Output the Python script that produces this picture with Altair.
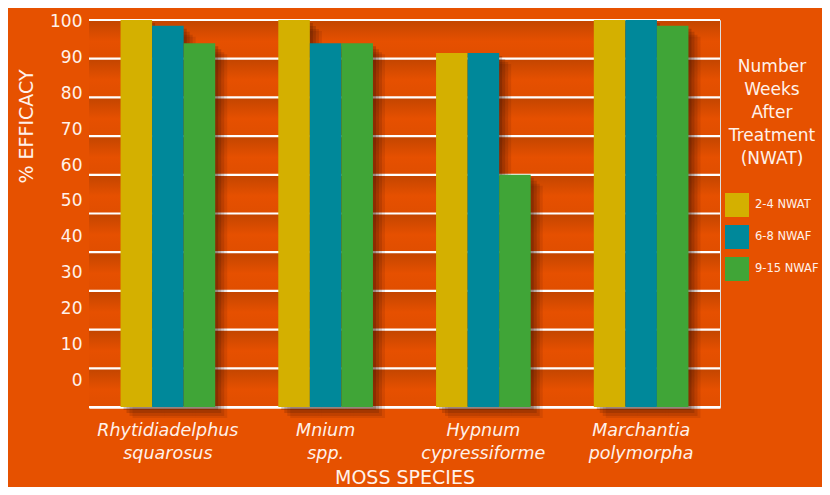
import altair as alt
import pandas as pd

species = ["Rhytidiadelphus squarosus", "Mnium spp.", "Hypnum cypressiforme", "Marchantia polymorpha"]
periods = ["2-4 NWAT", "6-8 NWAF", "9-15 NWAF"]
v_2_4 = [100, 100, 91.5, 100]
v_6_8 = [98.5, 94, 91.5, 100]
v_9_15 = [94, 94, 60, 98.5]
colors = ["#D4B000", "#00889A", "#40A537"]
y_ticks = list(range(0, 101, 10))

rows = []
for p, vals in zip(periods, [v_2_4, v_6_8, v_9_15]):
    for s, v in zip(species, vals):
        rows.append({"species": s, "period": p, "value": v})
df = pd.DataFrame(rows)
band_df = pd.DataFrame({"lo": y_ticks[:-1], "hi": y_ticks[1:]})
tick_df = pd.DataFrame({"tick": y_ticks})

TXT = "#FFF1EA"
FONT = "DejaVu Sans"
W, H = 631, 387
yscale = alt.Scale(domain=[0, 100], nice=False, zero=True)

xenc = alt.X("species:N", sort=species,
             scale=alt.Scale(paddingInner=0, paddingOuter=0),
             axis=alt.Axis(title="MOSS SPECIES", labelAngle=0,
                           labelExpr="split(datum.label, ' ')",
                           labelFontStyle="italic", labelFontSize=17.5,
                           labelColor=TXT, labelPadding=14, labelLineHeight=23,
                           ticks=False, domainColor="white", domainWidth=2.5,
                           titleFontSize=19, titleFontWeight="normal",
                           titleColor=TXT, titlePadding=7, labelFont=FONT,
                           titleFont=FONT))

step = W / 4 / 5  # width of one bar within a species band (outer padding 1 on each side)


def xoff(shift=0.0):
    return alt.XOffset("period:N", sort=periods,
                       scale=alt.Scale(paddingInner=0, paddingOuter=1,
                                       align=(step + shift) / (2 * step)))


bands = alt.Chart(band_df).mark_rect(
    fill=alt.Gradient(gradient="linear",
                      stops=[alt.GradientStop(color="#C24500", offset=0),
                             alt.GradientStop(color="#E65000", offset=0.55),
                             alt.GradientStop(color="#E04E00", offset=1)],
                      x1=0, x2=0, y1=0, y2=1)
).encode(
    y=alt.Y("hi:Q", scale=yscale,
            axis=alt.Axis(grid=False, labels=False, ticks=False, domain=True,
                          domainColor="white", domainWidth=2.5, title=None)),
    y2="lo:Q")

rules = alt.Chart(tick_df).mark_rule(color="white", strokeWidth=2.2).encode(
    y=alt.Y("tick:Q", scale=yscale, axis=None))


def shadow(dx, dy, op):
    return alt.Chart(df).mark_bar(color="#3A0E00", opacity=op, yOffset=dy).encode(
        x=xenc, xOffset=xoff(dx), y=alt.Y("value:Q", scale=yscale, axis=None))


bars = alt.Chart(df).mark_bar().encode(
    x=xenc, xOffset=xoff(0),
    y=alt.Y("value:Q", scale=yscale, axis=None),
    color=alt.Color("period:N", sort=periods,
                    scale=alt.Scale(domain=periods, range=colors),
                    legend=alt.Legend(
                        title=["Number", "Weeks", "After", "Treatment", "(NWAT)"],
                        orient="none", legendX=636, legendY=39,
                        titleAlign="center", titleAnchor="middle",
                        titleFontSize=17, titleFontWeight="normal",
                        titleLineHeight=23, titleColor=TXT, titleFont=FONT,
                        titlePadding=25,
                        symbolType="square", symbolSize=576,
                        symbolStrokeWidth=0, symbolOpacity=1,
                        labelFontSize=11.5, labelColor=TXT, labelFont=FONT,
                        labelOffset=6, rowPadding=8, padding=0))
)

inner = alt.layer(bands, rules,
                  shadow(3, 3, 0.22), shadow(6, 6, 0.18), shadow(9, 9, 0.14), shadow(12, 11, 0.1),
                  bars).resolve_scale(xOffset="independent")

labels = alt.Chart(df).mark_point(opacity=0).encode(
    y=alt.Y("value:Q",
            scale=alt.Scale(domain=[-7.5, 100.5], nice=False, zero=False),
            axis=alt.Axis(orient="left", values=y_ticks, grid=False, ticks=False,
                          domain=False, labelFontSize=17, labelColor=TXT,
                          labelFont=FONT, labelPadding=7,
                          title="% EFFICACY", titleFontSize=19,
                          titleFontWeight="normal", titleColor=TXT,
                          titleFont=FONT, titleX=-63, titleY=106,
                          titleBaseline="middle"))
)

chart = alt.layer(inner, labels).resolve_scale(y="independent").properties(
    width=W, height=H,
    autosize="none",
    padding={"left": 81, "top": 12, "right": 102, "bottom": 80},
    background="#E65100",
).configure_view(stroke=None).configure(font=FONT)

chart.save("out.html", embed_options={"renderer": "svg", "actions": False})
